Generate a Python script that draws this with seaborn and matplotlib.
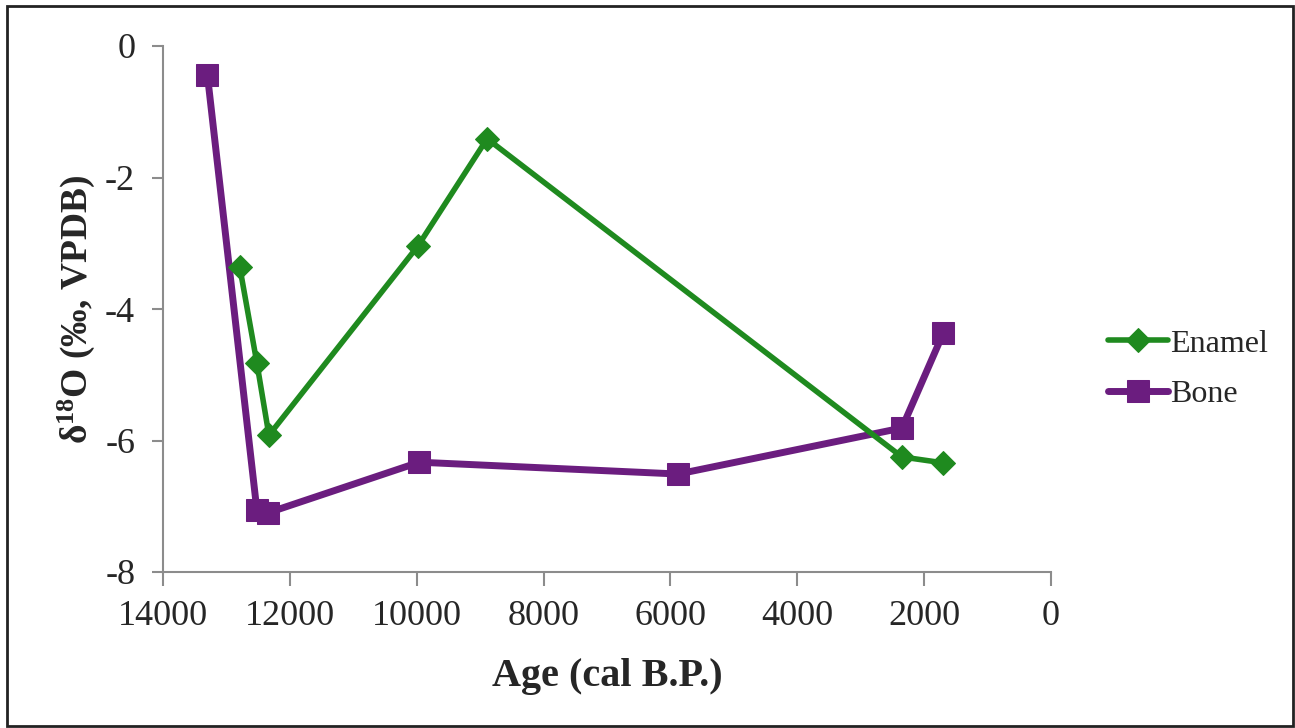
import numpy as np
import pandas as pd
import matplotlib as mpl
import matplotlib.pyplot as plt
import seaborn as sns
from matplotlib.patches import Rectangle

# values
enamel_age = [12790, 12520, 12330, 9980, 8890, 2350, 1700]
enamel_d18o = [-3.36, -4.82, -5.92, -3.04, -1.41, -6.25, -6.34]

bone_age = [13300, 12520, 12345, 9960, 5880, 2350, 1700]
bone_d18o = [-0.44, -7.06, -7.10, -6.33, -6.51, -5.81, -4.37]

x_ticks = [14000, 12000, 10000, 8000, 6000, 4000, 2000, 0]
y_ticks = [0, -2, -4, -6, -8]

sns.set_style("white")
plt.rcParams['font.family'] = ['Liberation Serif', 'DejaVu Serif']
plt.rcParams['axes.unicode_minus'] = False

green = '#1f8a1f'
purple = '#6b1d7f'

fig = plt.figure(figsize=(12.95, 7.28), dpi=100)
ax = fig.add_axes([163/1295, 1-572/728, (1051-163)/1295, (572-46)/728])

enamel = pd.DataFrame({'age': enamel_age, 'd18o': enamel_d18o})
bone = pd.DataFrame({'age': bone_age, 'd18o': bone_d18o})

sns.lineplot(data=enamel, x='age', y='d18o', sort=False, ax=ax, color=green,
             lw=4, marker='D', markersize=12, markeredgecolor=green,
             label='Enamel', zorder=3)
sns.lineplot(data=bone, x='age', y='d18o', sort=False, ax=ax, color=purple,
             lw=5, marker='s', markersize=16, markeredgecolor=purple,
             label='Bone', zorder=2)

ax.set_xlim(14000, 0)
ax.set_ylim(-8, 0)
ax.set_xticks(x_ticks)
ax.set_yticks(y_ticks)
ax.set_xticklabels([str(t) for t in x_ticks])
ax.set_yticklabels([str(t) for t in y_ticks])

for s in ['top', 'right']:
    ax.spines[s].set_visible(False)
for s in ['left', 'bottom']:
    ax.spines[s].set_color('#8c8c8c')
    ax.spines[s].set_linewidth(1.5)
ax.tick_params(axis='both', which='both', direction='out', color='#8c8c8c',
               width=1.5, labelsize=26, bottom=True, left=True)
ax.tick_params(axis='x', length=10, pad=10)
ax.tick_params(axis='y', length=8, pad=12)

ax.set_xlabel('Age (cal B.P.)', fontsize=29, fontweight='bold', labelpad=18)
ax.set_ylabel(r'δ$\mathregular{^{18}}$O (‰, VPDB)', fontsize=27,
              fontweight='bold')
ax.yaxis.set_label_coords(-0.074, 0.5)

ax.get_legend().remove()
handles, labels = ax.get_legend_handles_labels()
leg = fig.legend(handles, labels, loc='center left',
                 bbox_to_anchor=(1095/1295, 1-369/728), frameon=False,
                 fontsize=23, handlelength=1.9, handletextpad=0.05,
                 labelspacing=0.65, borderaxespad=0)

fig.patches.append(Rectangle((7/1295, 1-726/728), (1293-7)/1295, (726-6)/728,
                             transform=fig.transFigure, fill=False,
                             edgecolor='#222222', lw=2))

fig.savefig('out.png', dpi=100)
